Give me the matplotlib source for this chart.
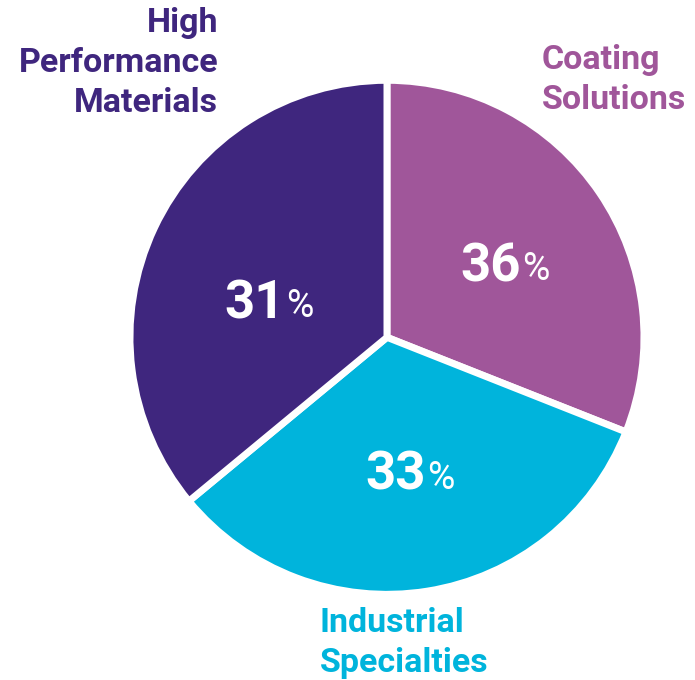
import numpy as np
import matplotlib
matplotlib.use("Agg")
import matplotlib.pyplot as plt

# shares as drawn (clockwise from 12 o'clock)
segments = ["Coating\nSolutions", "Industrial\nSpecialties", "High\nPerformance\nMaterials"]
shares = [31, 33, 36]
pct_labels = ["36", "33", "31"]
colors = ["#A0569A", "#00B4DC", "#3F267E"]

fig = plt.figure(figsize=(6.95, 6.8), dpi=100)
ax = fig.add_axes([0.187, 0.126, 0.7396, 0.7559])

wedges, _ = ax.pie(shares, colors=colors, startangle=90, counterclock=False,
                   radius=1, wedgeprops=dict(edgecolor="white", linewidth=5))
ax.set_xlim(-1, 1)
ax.set_ylim(-1, 1)
ax.axis("off")

# percentage labels inside wedges (radial distance, angle nudge)
for w, num, dist, nudge in zip(wedges, pct_labels, [0.54, 0.545, 0.47], [-3.7, 1, 9]):
    ang = np.deg2rad((w.theta1 + w.theta2) / 2 + nudge)
    x, y = dist * np.cos(ang), dist * np.sin(ang)
    ax.text(x + 0.055, y, num, ha="right", va="center", color="white",
            fontsize=38, fontweight="bold", family="Roboto")
    ax.text(x + 0.06, y - 0.012, "%", ha="left", va="center", color="white",
            fontsize=27, family="Roboto")

# category labels
font = dict(fontsize=24.5, fontweight="bold", family="Roboto", linespacing=1.32)
fig.text(0.314, 0.99, segments[2], ha="right", va="top", color=colors[2], **font)
fig.text(0.779, 0.935, segments[0], ha="left", va="top", color=colors[0], **font)
fig.text(0.460, 0.107, segments[1], ha="left", va="top", color=colors[1], **font)

fig.savefig("out.png", dpi=100)
